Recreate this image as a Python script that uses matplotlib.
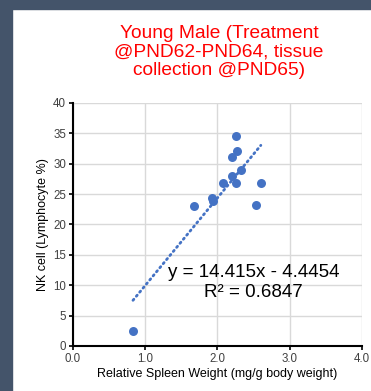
import matplotlib.pyplot as plt
from matplotlib.patches import Rectangle
from matplotlib.ticker import FormatStrFormatter

# data
spleen_wt = [0.83, 1.67, 1.92, 1.94, 2.07, 2.20, 2.20, 2.25, 2.26, 2.27, 2.33, 2.53, 2.60]
nk_pct = [2.4, 23.0, 24.3, 23.8, 26.9, 28.0, 31.1, 26.9, 34.5, 32.1, 28.9, 23.2, 26.8]
slope = 14.415
intercept = -4.4454
r2 = 0.6847

plt.rcParams['font.family'] = ['Liberation Sans', 'DejaVu Sans']

fig = plt.figure(figsize=(3.71, 3.91), dpi=100)
ax = fig.add_axes([0.1968, 0.1151, 0.7789, 0.6215])

# dark frame at left and top
fig.patches.append(Rectangle((0, 0), 12/371, 1, transform=fig.transFigure, color='#44546A', zorder=0))
fig.patches.append(Rectangle((0, 1 - 9/391), 1, 9/391, transform=fig.transFigure, color='#44546A', zorder=0))

ax.scatter(spleen_wt, nk_pct, s=42, color='#4472C4', zorder=3, linewidths=0)

xs = [min(spleen_wt), max(spleen_wt)]
ax.plot(xs, [slope*x + intercept for x in xs], color='#4472C4', lw=2,
        linestyle=(0, (0.5, 1.4)), dash_capstyle='round', zorder=2)

ax.text(2.50, 10.5, 'y = %.3fx - %.4f\nR² = %.4f' % (slope, -intercept, r2),
        ha='center', va='center', fontsize=13.5, linespacing=1.2, color='black')

ax.set_xlim(0, 4)
ax.set_ylim(0, 40)
ax.set_xticks([0, 1, 2, 3, 4])
ax.set_yticks(range(0, 41, 5))
ax.xaxis.set_major_formatter(FormatStrFormatter('%.1f'))
ax.grid(True, color='#D9D9D9', lw=1)
ax.set_axisbelow(True)
for s in ['top', 'right']:
    ax.spines[s].set_visible(False)
for s in ['left', 'bottom']:
    ax.spines[s].set_linewidth(1.5)
ax.tick_params(direction='out', length=3, width=1.2, labelsize=8.3, colors='black', pad=2)
ax.tick_params(axis='x', labelcolor='#404040')
ax.tick_params(axis='y', labelcolor='#404040')

ax.set_xlabel('Relative Spleen Weight (mg/g body weight)', fontsize=9, labelpad=2)
ax.set_ylabel('NK cell (Lymphocyte %)', fontsize=9, labelpad=3)

fig.text(0.59, 0.867, 'Young Male (Treatment\n@PND62-PND64, tissue\ncollection @PND65)',
         ha='center', va='center', color='red', fontsize=13.8, linespacing=1.13)

fig.savefig('out.png', dpi=100)
